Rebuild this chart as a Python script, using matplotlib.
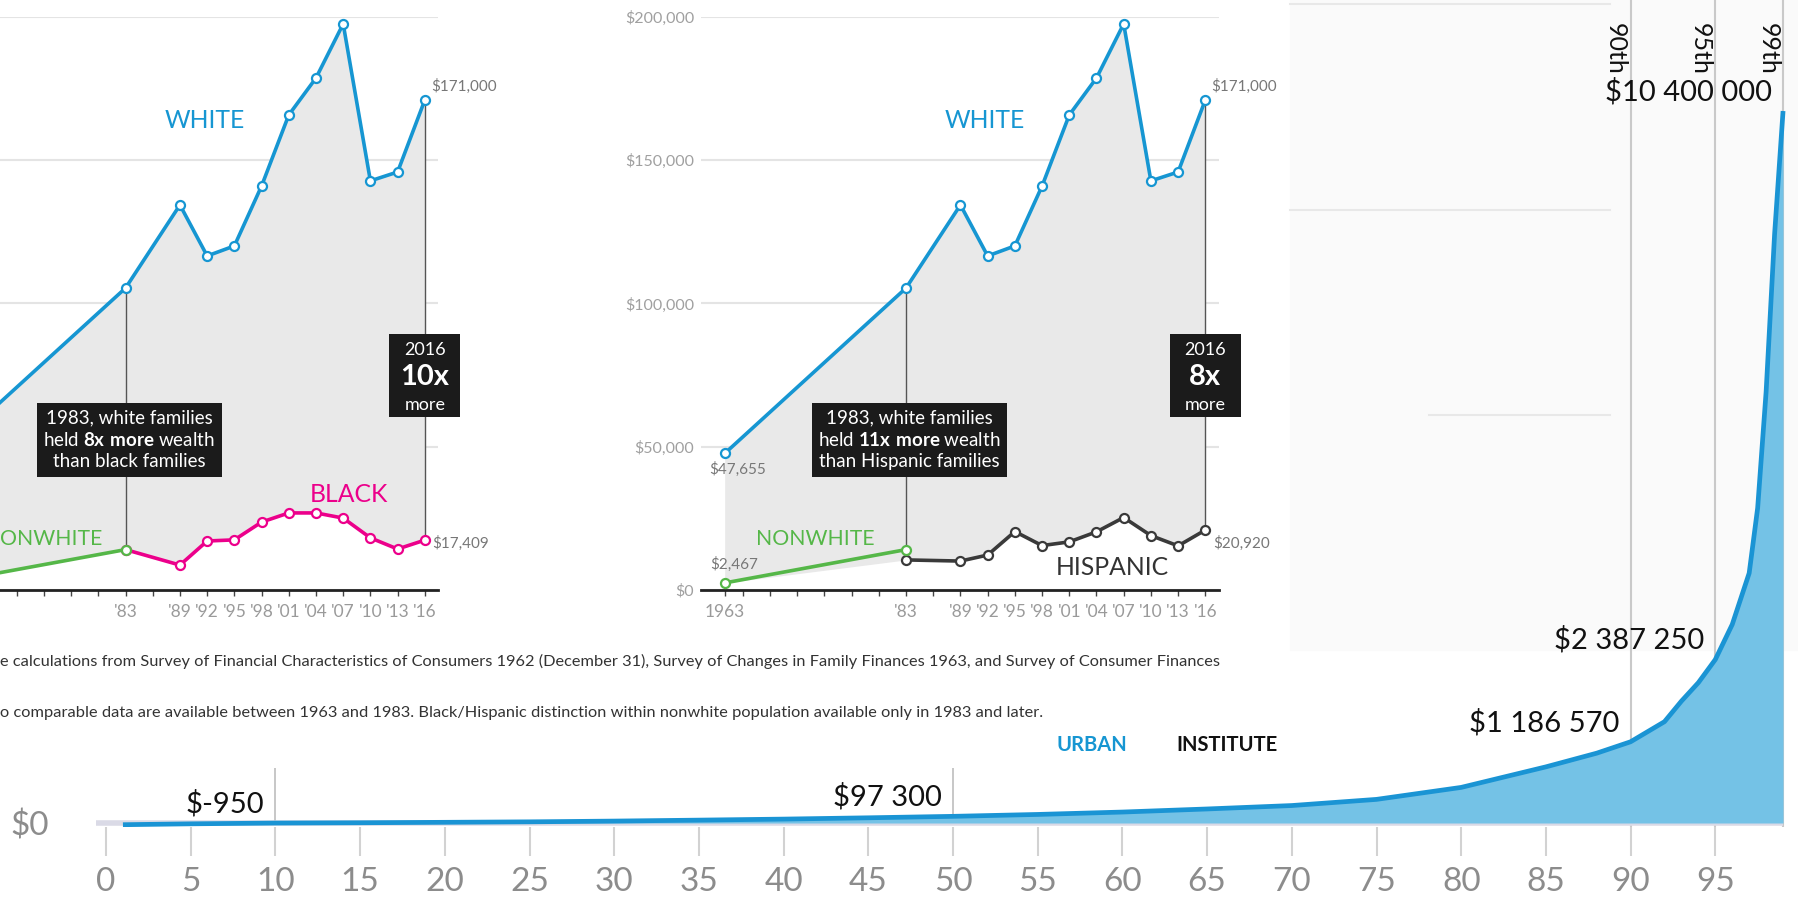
import matplotlib
matplotlib.use('Agg')
import matplotlib.pyplot as plt
from matplotlib.patches import Rectangle
from matplotlib.lines import Line2D
from matplotlib.ticker import FuncFormatter

plt.rcParams['font.family'] = ['Lato', 'DejaVu Sans']
plt.rcParams['mathtext.fontset'] = 'custom'
plt.rcParams['mathtext.rm'] = 'Lato'
plt.rcParams['mathtext.bf'] = 'Lato:bold'

# --- median family wealth by race (Urban Institute panels) ---
years = [1963, 1983, 1989, 1992, 1995, 1998, 2001, 2004, 2007, 2010, 2013, 2016]
white = [47655, 105400, 134400, 116600, 120100, 141000, 165800, 178700, 197600, 142800, 145900, 171000]
nonwhite_years = [1963, 1983]
nonwhite = [2467, 14100]
black = [14100, 8700, 17100, 17500, 23700, 26900, 26900, 25100, 18200, 14300, 17409]
hispanic = [10500, 10100, 12200, 20400, 15500, 16800, 20300, 25300, 19000, 15400, 20920]
label_years = [1963, 1983, 1989, 1992, 1995, 1998, 2001, 2004, 2007, 2010, 2013, 2016]
label_text = ['1963', "'83", "'89", "'92", "'95", "'98", "'01", "'04", "'07", "'10", "'13", "'16"]
grid_values = [0, 50000, 100000, 150000, 200000]

# --- net worth by percentile (overlay chart) ---
pct = [1, 5, 10, 15, 20, 25, 30, 35, 40, 45, 50, 55, 60, 65, 70, 75, 80, 85, 88, 90,
       92, 93, 94, 95, 96, 97, 97.5, 98, 98.5, 99]
wealth = [-25000, -12000, -950, 3500, 10000, 17000, 28000, 42000, 57000, 76000, 97300,
          125000, 160000, 205000, 255000, 345000, 520000, 820000, 1020000, 1186570,
          1480000, 1780000, 2050000, 2387250, 2900000, 3650000, 4600000, 6300000,
          8600000, 10400000]
marked = [10, 50, 90, 95, 99]
top_marked = [90, 95, 99]
pct_ticks = list(range(0, 100, 5))

BLUE = '#1696d2'
PINK = '#ec008b'
GREEN = '#55b748'
HISP = '#3a3a3a'

W, H = 1798, 901
fig = plt.figure(figsize=(W / 100, H / 100), dpi=100)


def px_rect(x0, y0, x1, y1):
    return [x0 / W, 1 - y1 / H, (x1 - x0) / W, (y1 - y0) / H]


# faint background of the third (hidden) panel on the right
fig.add_artist(Rectangle((1290 / W, 1 - 650 / H), (W - 1290) / W, 650 / H,
                         transform=fig.transFigure, color='#fafafa', zorder=-5))
for y, x0 in [(4, 1290), (210, 1290), (415, 1429)]:
    fig.add_artist(Line2D([x0 / W, 1610 / W], [1 - y / H] * 2, transform=fig.transFigure,
                          color='#e8e8e8', lw=1.5, zorder=-4))


def draw_panel(ax, lower, lower_color, lower_name, name_xy, name_col, end_label,
               ratio83, group, ratio16, first_panel):
    ax.set_facecolor('none')
    ax.set_xlim(1960.4, 2017.5)
    ax.set_ylim(0, 200000)
    for s in ['top', 'right', 'left']:
        ax.spines[s].set_visible(False)
    ax.spines['bottom'].set_color('#222222')
    ax.spines['bottom'].set_linewidth(2)
    ax.set_yticks(grid_values)
    ax.yaxis.set_major_formatter(FuncFormatter(lambda v, _: f'${v:,.0f}'))
    ax.tick_params(axis='y', length=0, pad=5, labelsize=11.5, labelcolor='#a0a0a0',
                   labelleft=not first_panel)
    ax.grid(axis='y', color='#e4e4e4', lw=1.5)
    ax.set_axisbelow(True)
    ax.set_xticks(label_years)
    labels = list(label_text)
    if first_panel:
        labels[0] = ''
    ax.set_xticklabels(labels)
    ax.set_xticks(list(range(1965, 2017, 3)), minor=True)
    ax.tick_params(axis='x', which='both', length=4, width=1, color='#444444', pad=6,
                   labelsize=12.5, labelcolor='#9a9a9a')

    low = [nonwhite[0]] + lower
    ax.fill_between(years, white, low, color='#e9e9e9', lw=0, zorder=1)
    ax.vlines(years[1], nonwhite[1], white[1], color='#555555', lw=1, zorder=2)
    ax.vlines(years[-1], lower[-1], white[-1], color='#555555', lw=1, zorder=2)

    mk = dict(marker='o', ms=6.5, mfc='white', mew=1.6, zorder=4, clip_on=False)
    ax.plot(years, white, color=BLUE, lw=2.6, mec=BLUE, **mk)
    ax.plot(years[1:], lower, color=lower_color, lw=2.6, mec=lower_color, **mk)
    ax.plot(nonwhite_years, nonwhite, color=GREEN, lw=2.6, mec=GREEN, **mk)

    ax.text(1991.7, 164000, 'WHITE', color=BLUE, fontsize=17.8, ha='center', va='center')
    if first_panel:
        # the left panel is cropped at the figure edge: only part of the word shows
        ax.text(0.0, 17800, 'ONWHITE', color=GREEN, fontsize=15.3, ha='left', va='center',
                transform=ax.get_yaxis_transform().__class__(fig.transFigure, ax.transData))
    else:
        ax.text(1979.5, 17800, 'NONWHITE', color=GREEN, fontsize=15.3, ha='right', va='center')
    ax.text(name_xy[0], name_xy[1], lower_name, color=name_col, fontsize=17.8,
            ha='center', va='center')
    ax.text(2016.7, 175700, f'${white[-1]:,}', color='#777777', fontsize=11,
            ha='left', va='center')
    ax.text(2016.85, 16200, end_label, color='#777777', fontsize=11, ha='left', va='center')

    ax.text(1983.4, 52500,
            f'1983, white families\nheld $\\bf{{{ratio83}x\\ more}}$ wealth\nthan {group} families',
            ha='center', va='center', color='white', fontsize=13.5, linespacing=1.3,
            zorder=6, bbox=dict(boxstyle='square,pad=0.35', fc='#1b1b1b', ec='none'))
    ax.add_patch(Rectangle((2016 - 3.9, 60400), 7.8, 29000, fc='#1b1b1b', ec='none',
                           zorder=6, clip_on=False))
    ax.text(2016, 83800, '2016', color='white', fontsize=13, ha='center', va='center', zorder=7)
    ax.text(2016, 74200, f'{ratio16}x', color='white', fontsize=21, fontweight='bold',
            ha='center', va='center', zorder=7)
    ax.text(2016, 64600, 'more', color='white', fontsize=13, ha='center', va='center', zorder=7)
    return ax


ax1 = fig.add_axes(px_rect(-79.4, 17, 438.4, 590))
draw_panel(ax1, black, PINK, 'BLACK', (2007.6, 33500), PINK, f'${black[-1]:,}',
           8, 'black', 10, True)

ax2 = fig.add_axes(px_rect(701.1, 17, 1218.9, 590))
draw_panel(ax2, hispanic, HISP, 'HISPANIC', (2005.8, 8000), '#333333', f'${hispanic[-1]:,}',
           11, 'Hispanic', 8, False)
ax2.text(1961.3, 42000, f'${white[0]:,}', color='#777777', fontsize=11, ha='left', va='center')
ax2.text(1961.4, 9100, f'${nonwhite[0]:,}', color='#777777', fontsize=11, ha='left', va='center')

fig.text(0, 1 - 661 / H,
         'e calculations from Survey of Financial Characteristics of Consumers 1962 (December 31), '
         'Survey of Changes in Family Finances 1963, and Survey of Consumer Finances',
         fontsize=11.8, color='#333333', ha='left', va='center')
fig.text(0, 1 - 713 / H,
         'o comparable data are available between 1963 and 1983. Black/Hispanic distinction '
         'within nonwhite population available only in 1983 and later.',
         fontsize=11.8, color='#333333', ha='left', va='center')
fig.text(1056 / W, 1 - 745 / H, 'URBAN', fontsize=14.5, fontweight='bold', color=BLUE,
         ha='left', va='center')
fig.text(1278 / W, 1 - 745 / H, 'INSTITUTE', fontsize=14.5, fontweight='bold', color='#111111',
         ha='right', va='center')

# --- overlay: wealth by percentile ---
px_per_unit = 16.94
x0_px = 106
px_per_dollar = 68.46 / 1e6
base_px = 823
ax_left_px, ax_bottom_px = 60, 826.8
axb = fig.add_axes(px_rect(ax_left_px, 0, W, ax_bottom_px), zorder=3)
axb.set_facecolor('none')
axb.set_xlim((ax_left_px - x0_px) / px_per_unit, (W - x0_px) / px_per_unit)
axb.set_ylim(-(ax_bottom_px - base_px) / px_per_dollar, base_px / px_per_dollar)
for s in axb.spines.values():
    s.set_visible(False)
axb.set_xticks(pct_ticks)
axb.tick_params(axis='x', direction='out', length=21, width=1.5, color='#d2d2d2',
                labelsize=24, labelcolor='#8c8c8c', pad=8)
axb.set_yticks([0])
axb.set_yticklabels(['$0'])
axb.tick_params(axis='y', length=0, labelsize=24, labelcolor='#8c8c8c', pad=8)

axb.hlines(0, pct[0] - 1.6, pct[-1], color='#dadae6', lw=4, zorder=1)
for p in top_marked:
    axb.axvline(p, color='#c9c9c9', lw=1.5, zorder=0)
    axb.text(p - 0.2, 0.972, f'{p}th', transform=axb.get_xaxis_transform(), rotation=270,
             ha='right', va='top', fontsize=18, color='#111111')
for p in marked:
    if p not in top_marked:
        axb.vlines(p, 0, 0.8e6, color='#bdbdbd', lw=1.2, zorder=0)

axb.fill_between(pct, wealth, 0, color='#74c2e6', lw=0, zorder=2)
axb.plot(pct, wealth, color='#1a94d4', lw=3.4, zorder=3, solid_capstyle='butt')

for p in marked:
    v = wealth[pct.index(p)]
    axb.annotate(f'${v:,}'.replace(',', ' '), (p, v), xytext=(-8, 14),
                 textcoords='offset points', ha='right', va='center',
                 fontsize=21, color='#111111', zorder=5)

fig.savefig('out.png', dpi=100)
